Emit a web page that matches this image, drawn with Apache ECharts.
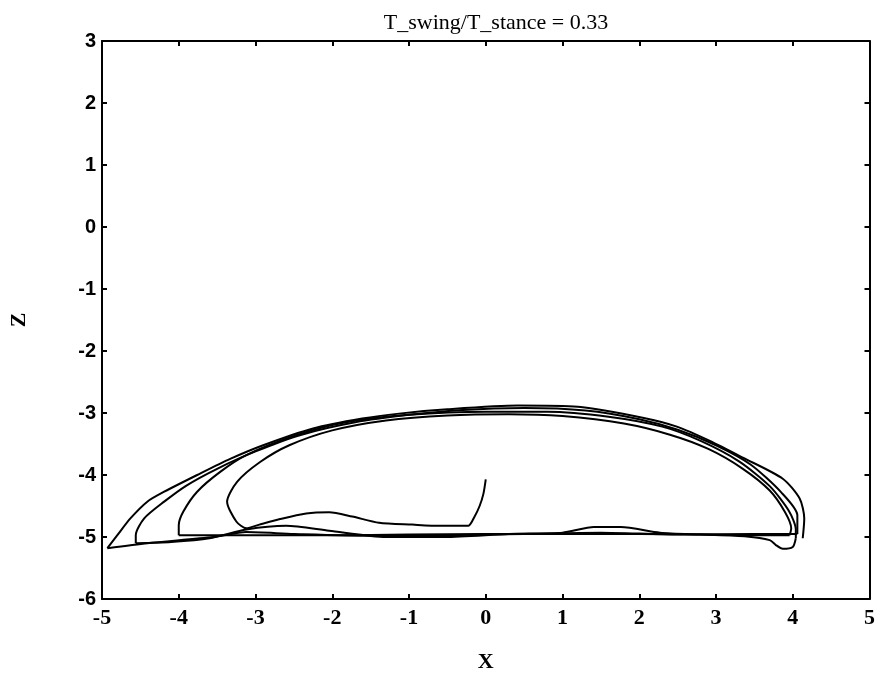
<!DOCTYPE html>
<html>
<head>
<meta charset="utf-8">
<script src="https://cdn.jsdelivr.net/npm/echarts@6/dist/echarts.min.js"></script>
<style>html,body{margin:0;padding:0;background:#fff}#c{width:878px;height:678px}</style>
</head>
<body>
<div id="c"></div>
<script>
// ---- data (x, z) ----
const titleText = 'T_swing/T_stance = 0.33';
const xTicks = [-5, -4, -3, -2, -1, 0, 1, 2, 3, 4, 5];
const zTicks = [-6, -5, -4, -3, -2, -1, 0, 1, 2, 3];

// first swing: starts at (0,-4.07), drops, hump back, inner loop, arc to right
const swing1X = [0, -0.03, -0.08, -0.15, -0.23, -0.6, -0.96, -1.39, -1.74, -2.04, -2.34, -2.68, -2.95, -3.12, -3.25, -3.37, -3.24, -2.94, -2.56, -2.0, -1.3, -0.5, 0.3, 1.0, 1.8, 2.4, 2.9, 3.35, 3.7, 3.9, 3.98, 3.96];
const swing1Z = [-4.07, -4.3, -4.5, -4.68, -4.82, -4.82, -4.80, -4.77, -4.67, -4.60, -4.62, -4.71, -4.80, -4.86, -4.75, -4.43, -4.11, -3.79, -3.52, -3.28, -3.12, -3.04, -3.02, -3.05, -3.17, -3.35, -3.58, -3.9, -4.25, -4.6, -4.86, -4.97];

const stance1X = [3.96, 3.5, 2.8, 2.0, 1.0, 0, -1.0, -2.0, -3.0, -4.0];
const stance1Z = [-4.97, -4.97, -4.96, -4.95, -4.95, -4.95, -4.96, -4.97, -4.97, -4.97];

const swing2X = [-4.0, -4.0, -3.94, -3.76, -3.46, -3.12, -2.47, -1.82, -1.0, 0, 0.8, 1.6, 2.3, 2.8, 3.3, 3.7, 3.95, 4.04, 4.04];
const swing2Z = [-4.97, -4.81, -4.59, -4.27, -3.95, -3.68, -3.36, -3.15, -3.03, -2.98, -2.98, -3.06, -3.22, -3.45, -3.78, -4.18, -4.58, -4.88, -5.02];

const stance2X = [4.04, 4.0, 3.87, 3.78, 3.70, 3.4, 2.8, 2.27, 1.76, 1.41, 1.0, 0.3, -0.53, -1.3, -2.04, -2.6, -3.12, -3.6, -4.1, -4.56];
const stance2Z = [-5.02, -5.16, -5.19, -5.13, -5.05, -4.99, -4.96, -4.93, -4.84, -4.84, -4.93, -4.95, -5.0, -5.0, -4.90, -4.82, -4.88, -5.02, -5.08, -5.10];

const swing3X = [-4.56, -4.56, -4.45, -4.19, -3.9, -3.5, -3.0, -2.4, -1.7, -1.0, -0.3, 0.5, 1.3, 2.0, 2.5, 3.0, 3.45, 3.85, 4.06, 4.06];
const swing3Z = [-5.10, -4.97, -4.70, -4.43, -4.17, -3.90, -3.62, -3.35, -3.15, -3.03, -2.95, -2.92, -2.96, -3.10, -3.27, -3.52, -3.83, -4.28, -4.65, -4.95];

const stance3X = [4.06, 3.5, 2.5, 1.5, 0.5, -0.5, -1.5, -2.5, -3.12, -3.55, -4.41, -4.93];
const stance3Z = [-4.95, -4.95, -4.96, -4.93, -4.95, -4.97, -4.98, -4.95, -4.92, -5.0, -5.10, -5.18];

const swing4X = [-4.93, -4.80, -4.63, -4.41, -4.19, -3.76, -3.33, -2.90, -2.25, -1.61, -1.13, -0.5, 0.42, 1.20, 2.06, 2.49, 2.92, 3.35, 3.87, 4.09, 4.15, 4.13];
const swing4Z = [-5.18, -4.97, -4.70, -4.43, -4.27, -4.00, -3.74, -3.52, -3.25, -3.09, -3.01, -2.94, -2.88, -2.90, -3.08, -3.22, -3.45, -3.72, -4.06, -4.38, -4.70, -5.02];

const segments = [
  [swing1X, swing1Z], [stance1X, stance1Z],
  [swing2X, swing2Z], [stance2X, stance2Z],
  [swing3X, swing3Z], [stance3X, stance3Z],
  [swing4X, swing4Z]
];

const serif = '"Liberation Serif","Times New Roman",serif';
const sans = '"Liberation Sans",Arial,sans-serif';

const chart = echarts.init(document.getElementById('c'), null, {renderer: 'canvas'});

const axisBase = {
  type: 'value',
  axisLine: {show: true, onZero: false, lineStyle: {color: '#000', width: 2}},
  axisTick: {show: true, inside: true, length: 5, lineStyle: {color: '#000', width: 2}},
  splitLine: {show: false}
};

chart.setOption({
  animation: false,
  backgroundColor: '#fff',
  title: {
    text: titleText, left: 491, top: 7, textAlign: 'center',
    textStyle: {fontFamily: serif, fontSize: 22, fontWeight: 'normal', color: '#000'}
  },
  grid: {left: 101, right: 4, top: 41, bottom: 77},
  xAxis: [
    Object.assign({}, axisBase, {
      min: xTicks[0], max: xTicks[xTicks.length - 1], interval: 1, position: 'bottom',
      axisLabel: {show: true, margin: 8, fontFamily: serif, fontSize: 22, fontWeight: 'bold', color: '#000'},
      name: 'X', nameLocation: 'middle', nameGap: 52,
      nameTextStyle: {fontFamily: serif, fontSize: 22, fontWeight: 'bold', color: '#000'}
    }),
    Object.assign({}, axisBase, {
      min: xTicks[0], max: xTicks[xTicks.length - 1], interval: 1, position: 'top',
      axisLabel: {show: false}
    })
  ],
  yAxis: [
    Object.assign({}, axisBase, {
      min: zTicks[0], max: zTicks[zTicks.length - 1], interval: 1, position: 'left',
      axisLabel: {show: true, margin: 6, fontFamily: sans, fontSize: 20, fontWeight: 'bold', color: '#000'},
      name: 'Z', nameLocation: 'middle', nameGap: 72, nameRotate: 90,
      nameTextStyle: {fontFamily: serif, fontSize: 22, fontWeight: 'bold', color: '#000'}
    }),
    Object.assign({}, axisBase, {
      min: zTicks[0], max: zTicks[zTicks.length - 1], interval: 1, position: 'right',
      axisLabel: {show: false}
    })
  ],
  series: segments.map(function (s) {
    return {
      type: 'line', xAxisIndex: 0, yAxisIndex: 0,
      data: s[0].map(function (x, i) { return [x, s[1][i]]; }),
      showSymbol: false, smooth: 0.25,
      lineStyle: {color: '#000', width: 2},
      silent: true
    };
  })
});
</script>
</body>
</html>
